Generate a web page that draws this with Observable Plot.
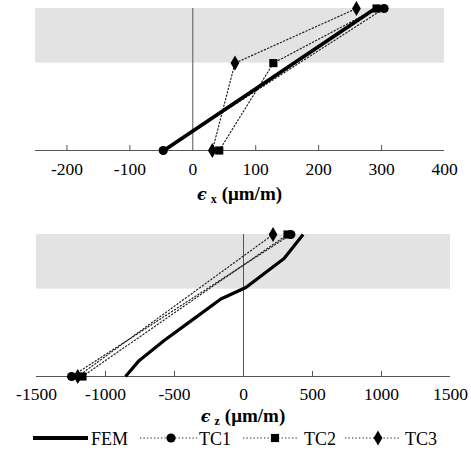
<!DOCTYPE html>
<html>
<head>
<meta charset="utf-8">
<script src="https://cdn.jsdelivr.net/npm/d3@7"></script>
<script src="https://cdn.jsdelivr.net/npm/@observablehq/plot@0.6"></script>
<style>
  html, body { margin: 0; padding: 0; background: #fff; }
  #wrap { position: relative; width: 471px; height: 464px; background: #fff; overflow: hidden; font-family: "Liberation Serif", serif; }
  #wrap > div.plot { position: absolute; left: 0; }
  .title { position: absolute; text-align: center; font-family: "Liberation Serif", serif;
           font-weight: bold; font-size: 19px; line-height: 18px; color: #000; white-space: nowrap; }
  .title .eps { font-style: italic; font-family: "DejaVu Serif", serif; font-size: 16px; }
  .title sub { font-size: 12px; position: relative; top: 3px; vertical-align: baseline; margin: 0 5px 0 4px; }
  #legend { position: absolute; left: 0; top: 423px; }
</style>
</head>
<body>
<div id="wrap">
  <div class="plot" id="p1" style="top:0px"></div>
  <div class="title" style="left:35px; width:409px; top:185px;"><span class="eps">ϵ</span><sub>x</sub>(μm/m)</div>
  <div class="plot" id="p2" style="top:226px"></div>
  <div class="title" style="left:36px; width:414px; top:407px;"><span class="eps">ϵ</span><sub>z</sub>(μm/m)</div>
  <svg id="legend" width="471" height="30"></svg>
</div>
<script>
const FONT = "Liberation Serif";

// ---- shared geometry (height above bottom, mm) ----
const totalHeight = 260;
const slabBottom = 160;

// ---- top chart: εx (μm/m) ----
const exDomain = [-250, 400];
const exTicks = [-200, -100, 0, 100, 200, 300, 400];
const exFEM_x = [-46, 290];
const exFEM_h = [0, 260];
const exTC1_x = [-47, 304];
const exTC1_h = [0, 260];
const exTC2_x = [42, 128, 292];
const exTC2_h = [0, 160, 260];
const exTC3_x = [31, 67, 260];
const exTC3_h = [0, 160, 260];

// ---- bottom chart: εz (μm/m) ----
const ezDomain = [-1500, 1500];
const ezTicks = [-1500, -1000, -500, 0, 500, 1000, 1500];
const ezFEM_x = [-855, -757, -575, -358, -164, 17, 294, 432];
const ezFEM_h = [0, 29, 66, 106, 142, 163, 216, 260];
const ezTC1_x = [-1246, 343];
const ezTC1_h = [0, 260];
const ezTC2_x = [-1167, 319];
const ezTC2_h = [0, 260];
const ezTC3_x = [-1201, 214];
const ezTC3_h = [0, 260];

const seriesNames = ["FEM", "TC1", "TC2", "TC3"];
const seriesSymbols = [null, "circle", "square", "diamond"];

const zip = (xs, hs) => xs.map((x, i) => ({x, h: hs[i]}));

function makePlot({domain, ticks, fem, tcs, femWidth, marginLeft, marginRight, pad}) {
  const interior = ticks.filter(t => t > domain[0] && t < domain[1] && t !== 0);
  const marks = [
    Plot.rect([0], {x1: () => domain[0], x2: () => domain[1], y1: () => slabBottom, y2: () => totalHeight, fill: "#e3e3e3"}),
    Plot.ruleX([0], {stroke: "#555", strokeWidth: 1}),
    Plot.ruleY([0], {stroke: "#555", strokeWidth: 1}),
    Plot.ruleX(interior, {x: d => d, y1: () => 0, y2: () => 0, insetTop: -5, stroke: "#555", strokeWidth: 1}),
    Plot.axisX({ticks, tickSize: 0, tickPadding: pad, tickFormat: d => String(d), label: null, fontSize: 17.5}),
  ];
  tcs.forEach((tc) => {
    marks.push(Plot.line(tc, {x: "x", y: "h", stroke: "#222", strokeWidth: 1.2, strokeDasharray: "1.3,2.2"}));
  });
  marks.push(Plot.line(fem, {x: "x", y: "h", stroke: "#000", strokeWidth: femWidth, strokeLinecap: "butt", strokeLinejoin: "round"}));
  tcs.forEach((tc, i) => {
    marks.push(Plot.dot(tc, {x: "x", y: "h", symbol: seriesSymbols[i + 1], r: 4.6, fill: "#000", stroke: "none"}));
  });
  return Plot.plot({
    width: 471, height: 180,
    marginTop: 8, marginBottom: 30, marginLeft, marginRight,
    x: {domain, ticks},
    y: {domain: [0, totalHeight], axis: null},
    style: {fontFamily: FONT, fontSize: "17.5px", color: "#000", background: "transparent", overflow: "visible"},
    marks
  });
}

document.getElementById("p1").append(makePlot({
  domain: exDomain, ticks: exTicks,
  fem: zip(exFEM_x, exFEM_h),
  tcs: [zip(exTC1_x, exTC1_h), zip(exTC2_x, exTC2_h), zip(exTC3_x, exTC3_h)],
  femWidth: 3.8, marginLeft: 35, marginRight: 27, pad: 12
}));

document.getElementById("p2").append(makePlot({
  domain: ezDomain, ticks: ezTicks,
  fem: zip(ezFEM_x, ezFEM_h),
  tcs: [zip(ezTC1_x, ezTC1_h), zip(ezTC2_x, ezTC2_h), zip(ezTC3_x, ezTC3_h)],
  femWidth: 3.2, marginLeft: 36, marginRight: 21, pad: 11
}));

// ---- legend ----
const legendLayout = [
  {x0: 33, x1: 88, mark: null, tx: 91},
  {x0: 140, x1: 197, mark: 171, tx: 199},
  {x0: 243, x1: 298, mark: 275, tx: 304},
  {x0: 345, x1: 400, mark: 378, tx: 405}
];
const lg = d3.select("#legend");
const cy = 15;
const symMap = {circle: d3.symbolCircle, square: d3.symbolSquare, diamond: d3.symbolDiamond};
seriesNames.forEach((name, i) => {
  const L = legendLayout[i];
  const sym = seriesSymbols[i];
  lg.append("line").attr("x1", L.x0).attr("x2", L.x1).attr("y1", cy).attr("y2", cy)
    .attr("stroke", sym ? "#222" : "#000")
    .attr("stroke-width", sym ? 1.2 : 3.8)
    .attr("stroke-dasharray", sym ? "1.3,2.2" : null);
  if (sym) {
    lg.append("path").attr("d", d3.symbol(symMap[sym], Math.PI * 4.6 * 4.6)())
      .attr("transform", `translate(${L.mark},${cy})`).attr("fill", "#000");
  }
  lg.append("text").attr("x", L.tx).attr("y", cy + 6.5)
    .attr("font-family", FONT).attr("font-size", 18).attr("fill", "#000")
    .text(name);
});
</script>
</body>
</html>
